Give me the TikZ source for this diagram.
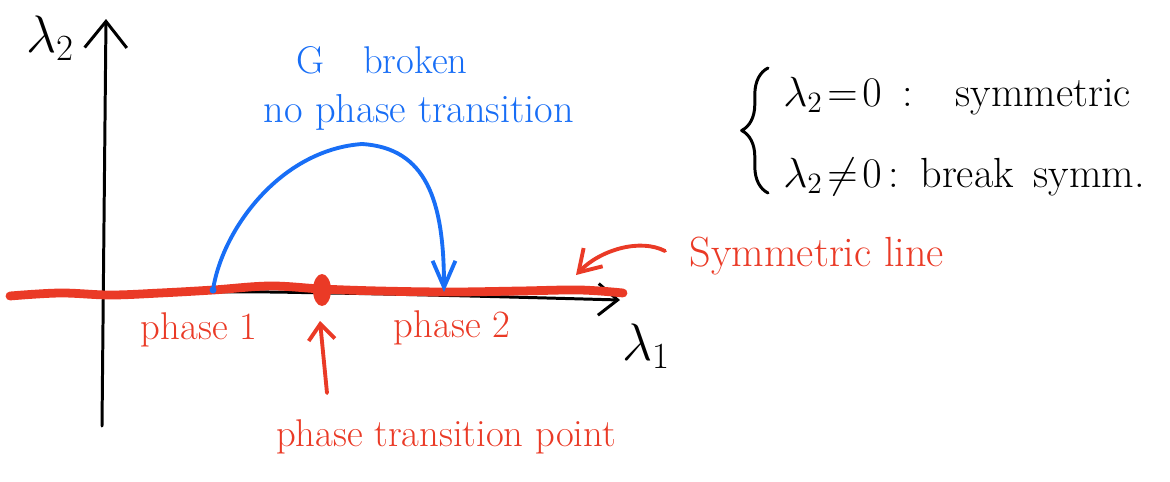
\RequirePackage{fix-cm}
\documentclass[tikz,border=0pt]{standalone}
\usetikzlibrary{arrows.meta,decorations.pathreplacing,shapes.geometric}
\definecolor{redink}{RGB}{234,58,38}
\definecolor{blueink}{RGB}{24,110,246}
\begin{document}
\begin{tikzpicture}[x=0.02cm,y=-0.02cm,
  hand/.style={font=\fontsize{22}{26}\selectfont, inner sep=0pt},
  redtext/.style={hand, text=redink},
  bluetext/.style={hand, text=blueink},
  blacktext/.style={hand, text=black},
  axisline/.style={line width=1.7pt, line cap=round, line join=round},
  redthick/.style={draw=redink, line width=5pt, line cap=round, line join=round},
  redthin/.style={draw=redink, line width=2.2pt, line cap=round, line join=round},
  blueline/.style={draw=blueink, line width=2.2pt, line cap=round, line join=round},
]
\useasboundingbox (0,0) rectangle (1170,481);

% axes coordinates
\coordinate (ybot) at (102,426);
\coordinate (ytop) at (106,19);
\coordinate (xleft) at (10,296);
\coordinate (xright) at (620,300);

% vertical axis
\draw[axisline, -{Straight Barb[length=15pt,width=24pt,line width=1.7pt]}] (ybot) -- (ytop);
\node[blacktext, font=\fontsize{30}{34}\selectfont] (l2) at (50,38) {$\lambda_2$};

% horizontal axis (black, mostly under red)
\draw[axisline, -{Straight Barb[length=11pt,width=18pt,line width=1.7pt]}]
  plot[smooth, tension=0.6] coordinates {(xleft) (213,292) (330,293) (470,296) (xright)};
\node[blacktext, font=\fontsize{30}{34}\selectfont] (l1) at (646,346) {$\lambda_1$};

% red symmetric line
\draw[redthick] plot[smooth, tension=0.6] coordinates
  {(10,296) (60,293) (110,295) (160,293) (213,290) (270,286) (322,289) (380,291) (450,292) (520,291) (580,290) (623,293)};
\coordinate (ptdot) at (322,290);
\fill[redink] (ptdot) ellipse [x radius=9, y radius=16];

% blue arc
\coordinate (bstart) at (213,290);
\coordinate (bpeak) at (362,144);
\coordinate (bend) at (444,292);
\fill[blueink] (bstart) circle [radius=3.5];
\draw[blueline, -{Straight Barb[length=15pt,width=13pt,line width=2.2pt]}]
  (bstart) .. controls (222,230) and (280,150) .. (bpeak)
           .. controls (426,148) and (444,200) .. (bend);
\node[bluetext] (gbroken) at (382,60) {G\quad broken};
\node[bluetext, font=\fontsize{23}{27}\selectfont] (nopt) at (419,112) {no phase transition};

% red labels
\node[redtext] (ph1) at (199,330) {phase 1};
\node[redtext] (ph2) at (452,328) {phase 2};
\node[redtext] (ptp) at (446,437) {phase transition point};
\coordinate (tptail) at (327,393);
\coordinate (tptip) at (320,321);
\draw[redthin, -{Straight Barb[length=9pt,width=15pt,line width=2.2pt]}] (tptail) -- (tptip);

% symmetric line label
\node[redtext, font=\fontsize{24}{28}\selectfont] (symline) at (817,256) {Symmetric line};
\coordinate (symtail) at (665,251);
\coordinate (symtip) at (576,275);
\draw[redthin, -{Straight Barb[length=12pt,width=15pt,line width=2.2pt]}]
  (symtail) .. controls (640,238) and (600,250) .. (symtip);

% legend
\draw[axisline, decorate, decoration={brace, amplitude=15pt, aspect=0.5}] (768,193) -- (768,68);
\node[blacktext, anchor=west, font=\fontsize{24}{28}\selectfont] (leg1) at (783,96) {$\lambda_2\!=\!0$\enspace:\quad symmetric};
\node[blacktext, anchor=west, font=\fontsize{24}{28}\selectfont] (leg2) at (783,177) {$\lambda_2\!\neq\!0$\,:\enspace break\, symm.};
\end{tikzpicture}
\end{document}
